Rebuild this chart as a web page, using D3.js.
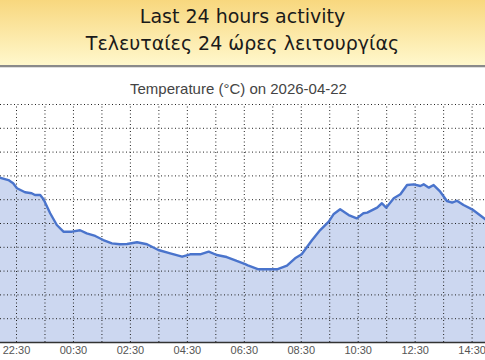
<!DOCTYPE html>
<html>
<head>
<meta charset="utf-8">
<script src="https://cdn.jsdelivr.net/npm/d3@7"></script>
<style>
html,body{margin:0;padding:0;background:#fff;overflow:hidden;}
svg{display:block;}
</style>
</head>
<body>
<svg id="chart" width="485" height="360"></svg>
<script>
const headerLines = ["Last 24 hours activity", "Τελευταίες 24 ώρες λειτουργίας"];
const chartTitle = "Temperature (°C) on 2026-04-22";
const times = ["2026-04-21 21:56","2026-04-21 22:14","2026-04-21 22:24","2026-04-21 22:32","2026-04-21 22:49","2026-04-21 23:03","2026-04-21 23:10","2026-04-21 23:21","2026-04-21 23:28","2026-04-21 23:42","2026-04-21 23:56",
"2026-04-22 00:10","2026-04-22 00:28","2026-04-22 00:45","2026-04-22 00:59","2026-04-22 01:17","2026-04-22 01:34","2026-04-22 01:52","2026-04-22 02:09","2026-04-22 02:24","2026-04-22 02:45","2026-04-22 03:06","2026-04-22 03:30","2026-04-22 03:55","2026-04-22 04:20","2026-04-22 04:37","2026-04-22 04:58","2026-04-22 05:16","2026-04-22 05:33","2026-04-22 05:54","2026-04-22 06:15","2026-04-22 06:33","2026-04-22 06:40","2026-04-22 07:01","2026-04-22 07:40","2026-04-22 08:01","2026-04-22 08:18","2026-04-22 08:32","2026-04-22 08:54","2026-04-22 09:11","2026-04-22 09:29","2026-04-22 09:39","2026-04-22 09:53","2026-04-22 10:11","2026-04-22 10:28","2026-04-22 10:42","2026-04-22 10:50","2026-04-22 11:11","2026-04-22 11:21","2026-04-22 11:30","2026-04-22 11:46","2026-04-22 12:00","2026-04-22 12:14","2026-04-22 12:28","2026-04-22 12:42","2026-04-22 12:49","2026-04-22 13:00","2026-04-22 13:10","2026-04-22 13:24","2026-04-22 13:38","2026-04-22 13:49","2026-04-22 13:59","2026-04-22 14:13","2026-04-22 14:31","2026-04-22 14:45","2026-04-22 14:59","2026-04-22 15:10"];
const temps = [13.81,13.61,13.34,12.92,12.58,12.50,12.35,12.35,11.99,10.82,9.83,
9.27,9.27,9.39,9.13,8.91,8.57,8.29,8.21,8.24,8.38,8.21,7.73,7.45,7.17,7.37,7.37,7.59,7.31,7.14,6.81,6.55,6.41,6.11,6.11,6.41,7.03,7.37,8.57,9.41,10.11,10.73,11.15,10.67,10.39,10.82,10.87,11.29,11.66,11.29,12.08,12.41,13.19,13.25,13.11,13.25,12.97,13.19,12.63,11.85,11.71,11.87,11.51,11.15,10.73,10.31,9.95];
const yTicks = [0,2,4,6,8,10,12,14,16,18,20];
const xTickLabels = ["22:30","00:30","02:30","04:30","06:30","08:30","10:30","12:30","14:30"];

const parse = d3.timeParse("%Y-%m-%d %H:%M");
const data = times.map((t,i)=>({t:parse(t), v:temps[i]}));

const W = 485, H = 360;
const svg = d3.select("#chart");
const defs = svg.append("defs");
const grad = defs.append("linearGradient").attr("id","hdr").attr("x1",0).attr("y1",0).attr("x2",0).attr("y2",1);
grad.append("stop").attr("offset","0%").attr("stop-color","#f8d77e");
grad.append("stop").attr("offset","100%").attr("stop-color","#fff8cc");

// header
svg.append("rect").attr("x",0).attr("y",0).attr("width",W).attr("height",65).attr("fill","url(#hdr)");
svg.append("rect").attr("x",0).attr("y",65).attr("width",W).attr("height",2).attr("fill","#8a8a8a");
svg.append("rect").attr("x",0).attr("y",67).attr("width",W).attr("height",1).attr("fill","#dedede");
svg.selectAll("text.hdr").data(headerLines).join("text")
  .attr("class","hdr")
  .attr("x",W/2).attr("y",(d,i)=>23+i*27)
  .attr("text-anchor","middle")
  .attr("font-family","Verdana, 'DejaVu Sans', sans-serif")
  .attr("font-size",19).attr("fill","#1a1a1a")
  .text(d=>d);

// chart title
svg.append("text").attr("x",238.5).attr("y",94).attr("text-anchor","middle")
  .attr("font-family","Arial, 'Liberation Sans', sans-serif").attr("font-size",15).attr("fill","#444")
  .text(chartTitle);

// scales
const plotTop = 104, plotBottom = 342;
const x = d3.scaleTime().domain([parse("2026-04-21 22:30"), parse("2026-04-22 14:30")]).range([16, 471.6]);
const y = d3.scaleLinear().domain([0,20]).range([plotBottom, plotTop]);

const area = d3.area().x(d=>x(d.t)).y0(plotBottom).y1(d=>y(d.v)).curve(d3.curveLinear);
const line = d3.line().x(d=>x(d.t)).y(d=>y(d.v)).curve(d3.curveLinear);

svg.append("path").datum(data).attr("d",area).attr("fill","#ccd7f0");

// gridlines
const hourTicks = d3.range(-1, 19).map(h => d3.timeMinute.offset(parse("2026-04-21 22:30"), h*60));
const gx = svg.append("g").attr("transform",`translate(0,${plotBottom})`)
  .call(d3.axisBottom(x).tickValues(hourTicks).tickSize(-(plotBottom-plotTop)).tickFormat(""));
gx.select(".domain").remove();
gx.selectAll("line").attr("stroke","#222").attr("stroke-dasharray","1,2.5").attr("stroke-width",1);

const gy = svg.append("g")
  .call(d3.axisLeft(y).tickValues(yTicks.slice(1)).tickSize(0).tickFormat(""));
gy.select(".domain").remove();
gy.selectAll(".tick").each(function(d){
  d3.select(this).append("line").attr("x1",0).attr("x2",W)
    .attr("stroke","#222").attr("stroke-dasharray","1,2.5").attr("stroke-width",1);
});

svg.append("path").datum(data).attr("d",line).attr("fill","none")
  .attr("stroke","#4a74cc").attr("stroke-width",2.4).attr("stroke-linejoin","round");

// x axis baseline and labels
svg.append("line").attr("x1",0).attr("x2",W).attr("y1",plotBottom+0.5).attr("y2",plotBottom+0.5).attr("stroke","#333").attr("stroke-width",1.5);
const labelTicks = xTickLabels.map((l,i)=>d3.timeMinute.offset(parse("2026-04-21 22:30"), i*120));
const gl = svg.append("g").attr("transform",`translate(0,${plotBottom})`)
  .call(d3.axisBottom(x).tickValues(labelTicks).tickSize(0).tickPadding(4).tickFormat((d,i)=>xTickLabels[i]));
gl.select(".domain").remove();
gl.selectAll("text").attr("font-family","Arial, 'Liberation Sans', sans-serif").attr("font-size",11).attr("fill","#555");
</script>
</body>
</html>
